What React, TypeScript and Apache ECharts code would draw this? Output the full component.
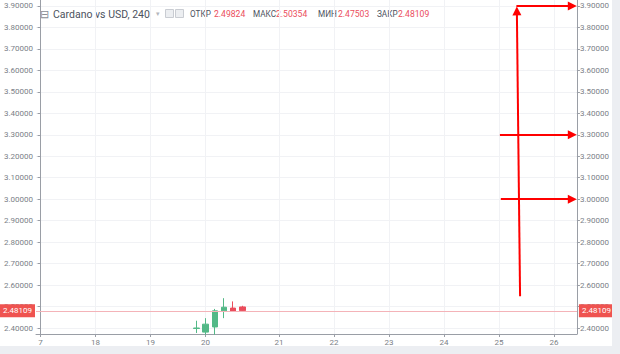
import React, { useEffect, useRef } from "react";
import * as echarts from "echarts";

// Day tick labels on the time axis and the bar index (4h bars) where each appears
const dayLabels = ["7", "18", "19", "20", "21", "22", "23", "24", "25", "26"];
const dayIdx = [0, 6, 12, 18, 26, 32, 38, 44, 50, 56];

// Price tick labels
const priceTicks = [2.4, 2.5, 2.6, 2.7, 2.8, 2.9, 3.0, 3.1, 3.2, 3.3, 3.4, 3.5, 3.6, 3.7, 3.8, 3.9];

// Candles (4h bars)
const candleIdx = [17, 18, 19, 20, 21, 22];
const openP = [2.398, 2.381, 2.405, 2.48, 2.493, 2.49824];
const closeP = [2.4, 2.418, 2.48, 2.497, 2.478, 2.48109];
const lowP = [2.377, 2.369, 2.369, 2.446, 2.476, 2.47503];
const highP = [2.434, 2.446, 2.489, 2.539, 2.524, 2.50354];

// Annotation arrows pointing at price levels on the right scale
const arrowLevels = [3.3, 3.0];
const arrowStartIdx = [50.1, 50.2];
const verticalArrow = { fromIdx: 52.3, fromPrice: 2.548, toIdx: 51.95, toPrice: 3.877 };
const topArrow = { fromIdx: 51.9, price: 3.9 };
const arrowEndIdx = 58.0;

const UP = "#53b987";
const DOWN = "#eb4d5c";
const AXIS = "#9a9ea6";
const LABEL = "#7b7f88";
const GRID = "#f1f2f5";
const FONT = "Roboto, 'Noto Sans', sans-serif";

export default function App() {
  const ref = useRef<HTMLDivElement>(null);
  useEffect(() => {
    if (!ref.current) return;
    const chart = echarts.init(ref.current, undefined, { renderer: "svg" });
    const last = candleIdx.length - 1;
    const lastClose = closeP[last];
    const candles = candleIdx.map((x, i) => [x, openP[i], closeP[i], lowP[i], highP[i]]);

    const yAxisBase = (pos: "left" | "right") => ({
      type: "value",
      position: pos,
      min: 2.3722,
      max: 3.9278,
      scale: true,
      axisLine: { show: true, lineStyle: { color: AXIS, width: 1 } },
      axisTick: { show: true, length: 3, lineStyle: { color: AXIS }, customValues: priceTicks },
      axisLabel: {
        customValues: priceTicks,
        formatter: (v: number) => v.toFixed(5),
        color: LABEL,
        fontSize: 8,
        fontFamily: FONT,
        margin: 3,
      },
      splitLine: { show: pos === "left", lineStyle: { color: GRID, width: 1 } },
    });

    const hdrY = 14;
    const txt = (x: number, text: string, fill: string, size: number, extra: any = {}) => ({
      type: "text",
      x,
      y: hdrY,
      style: { text, fill, fontSize: size, fontFamily: FONT, verticalAlign: "middle", ...extra },
    });

    const arrowLine = (a: [number, number], b: [number, number]) => [
      { coord: a, symbol: "none" },
      { coord: b, symbol: "triangle" },
    ];

    chart.setOption({
      animation: false,
      backgroundColor: "#ffffff",
      grid: { left: 36, right: 35, top: 0, bottom: 10 },
      xAxis: {
        type: "value",
        min: -0.5,
        max: 58.5,
        axisLine: { show: true, onZero: false, lineStyle: { color: AXIS } },
        axisTick: { show: true, length: 3, lineStyle: { color: AXIS }, customValues: dayIdx },
        axisLabel: {
          customValues: dayIdx,
          formatter: (v: number) => dayLabels[dayIdx.indexOf(Math.round(v))] ?? "",
          color: LABEL,
          fontSize: 8,
          fontFamily: FONT,
          margin: 4,
        },
        splitLine: { show: true, lineStyle: { color: GRID } },
      },
      yAxis: [yAxisBase("left"), yAxisBase("right")],
      series: [
        {
          type: "candlestick",
          yAxisIndex: 0,
          clip: false,
          barWidth: 6,
          encode: { x: 0, y: [1, 2, 3, 4] },
          data: candles,
          itemStyle: { color: UP, color0: DOWN, borderColor: UP, borderColor0: DOWN, borderWidth: 1 },
          markLine: {
            silent: true,
            symbol: "none",
            lineStyle: { color: "#f4b3b8", type: "solid", width: 1 },
            label: {
              formatter: () => lastClose.toFixed(5),
              backgroundColor: "#ef5350",
              color: "#ffffff",
              fontSize: 8,
              fontFamily: FONT,
              padding: [3, 3, 2, 3],
              distance: 1,
            },
            data: [
              { yAxis: lastClose, label: { position: "start" } },
              { yAxis: lastClose, label: { position: "end", distance: 2 } },
            ],
          },
        },
        {
          type: "line",
          yAxisIndex: 0,
          data: [],
          clip: false,
          markLine: {
            silent: true,
            symbolSize: 9,
            lineStyle: { color: "#ff0000", width: 2, type: "solid" },
            itemStyle: { color: "#ff0000" },
            label: { show: false },
            data: [
              arrowLine([verticalArrow.fromIdx, verticalArrow.fromPrice], [verticalArrow.toIdx, verticalArrow.toPrice]),
              arrowLine([topArrow.fromIdx, topArrow.price], [arrowEndIdx, topArrow.price]),
              ...arrowLevels.map((p, i) => arrowLine([arrowStartIdx[i], p], [arrowEndIdx, p])),
            ],
          },
        },
      ],
      graphic: [
        txt(40, "⊟", "#8a8e96", 11),
        txt(53, "Cardano vs USD, 240", "#4c525e", 10.5),
        txt(156, "▾", "#b4b7bd", 7),
        { type: "rect", shape: { x: 165.5, y: 9.5, width: 8, height: 8 }, style: { fill: "#eceef1", stroke: "#c9ccd2", lineWidth: 1 } },
        { type: "rect", shape: { x: 175.5, y: 9.5, width: 8, height: 8 }, style: { fill: "#eceef1", stroke: "#c9ccd2", lineWidth: 1 } },
        txt(190, "ОТКР", "#4c525e", 8.2),
        txt(214, openP[last].toFixed(5), DOWN, 8.6),
        txt(253, "МАКС", "#4c525e", 8.2),
        txt(276, highP[last].toFixed(5), DOWN, 8.6),
        txt(318, "МИН", "#4c525e", 8.2),
        txt(338, lowP[last].toFixed(5), DOWN, 8.6),
        txt(377, "ЗАКР", "#4c525e", 8.2),
        txt(398, lastClose.toFixed(5), DOWN, 8.6),
      ],
    });
    return () => chart.dispose();
  }, []);

  return (
    <div style={{ position: "fixed", left: 0, top: 0, width: 620, height: 354, background: "#eceef2" }}>
      <div ref={ref} style={{ position: "absolute", left: 0, top: 0, width: 612, height: 346, background: "#fff" }} />
    </div>
  );
}
